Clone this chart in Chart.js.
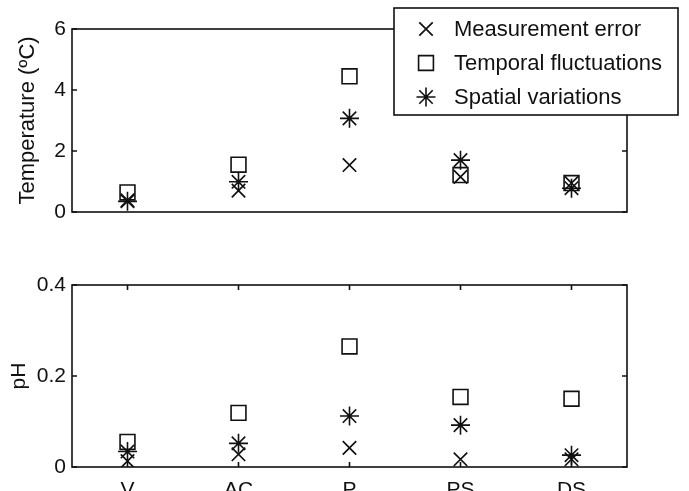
<!DOCTYPE html>
<html>
<head>
<meta charset="utf-8">
<title>Measurement error, temporal and spatial variability</title>
<script src="https://cdn.jsdelivr.net/npm/chart.js@4.4.0/dist/chart.umd.min.js"></script>
<style>
  html, body { margin: 0; padding: 0; background: #fff; width: 689px; height: 491px; overflow: hidden; }
  canvas { position: absolute; left: 0; }
  #tempChart { top: 0; }
  #phChart { top: 240px; }
</style>
</head>
<body>
<canvas id="tempChart" width="689" height="240"></canvas>
<canvas id="phChart" width="689" height="275"></canvas>
<script>
// sampling sites
const categories = ['V', 'AC', 'P', 'PS', 'DS'];
const seriesNames = ['Measurement error', 'Temporal fluctuations', 'Spatial variations'];

// temperature (ºC)
const tempError = [0.38, 0.70, 1.54, 1.15, 0.95];
const tempTemporal = [0.64, 1.55, 4.45, 1.21, 0.95];
const tempSpatial = [0.35, 0.99, 3.07, 1.70, 0.78];
const tempTicks = [0, 2, 4, 6];

// pH
const phError = [0.013, 0.028, 0.042, 0.017, 0.017];
const phTemporal = [0.055, 0.119, 0.265, 0.154, 0.150];
const phSpatial = [0.034, 0.052, 0.112, 0.092, 0.026];
const phTicks = [0, 0.2, 0.4];

const INK = '#111';
const FONT = 'Arial, "Liberation Sans", Helvetica, sans-serif';

// marker look for each series (x, open square, asterisk)
const markerStyles = [
    { pointStyle: 'crossRot', pointRadius: 9.5, pointBorderWidth: 1.7 },
    { pointStyle: 'rect', pointRadius: 10.5, pointBorderWidth: 1.6 },
    { pointStyle: 'star', pointRadius: 9.5, pointBorderWidth: 1.6 }
];

function makeDatasets(values) {
    return values.map((data, i) => ({
        label: seriesNames[i],
        data: data,
        showLine: false,
        borderColor: INK,
        backgroundColor: 'rgba(0,0,0,0)',
        pointBackgroundColor: 'rgba(0,0,0,0)',
        pointBorderColor: INK,
        pointHoverRadius: markerStyles[i].pointRadius,
        ...markerStyles[i]
    }));
}

// MATLAB-like box with inward tick marks
const boxAxes = {
    id: 'boxAxes',
    beforeDatasetsDraw(chart, args, opts) {
        const { ctx, chartArea: a, scales } = chart;
        const len = 5;
        ctx.save();
        ctx.strokeStyle = INK;
        ctx.lineWidth = 1.6;
        ctx.strokeRect(a.left, a.top, a.right - a.left, a.bottom - a.top);
        ctx.beginPath();
        scales.y.ticks.forEach(t => {
            const y = scales.y.getPixelForValue(t.value);
            ctx.moveTo(a.left, y); ctx.lineTo(a.left + len, y);
            ctx.moveTo(a.right, y); ctx.lineTo(a.right - len, y);
        });
        if (opts.xTicks) {
            scales.x.ticks.forEach((t, i) => {
                const x = scales.x.getPixelForTick(i);
                ctx.moveTo(x, a.top); ctx.lineTo(x, a.top + len);
                ctx.moveTo(x, a.bottom); ctx.lineTo(x, a.bottom - len);
            });
        }
        ctx.stroke();
        ctx.restore();
    }
};

// boxed legend in the upper right, drawn over the axes frame
const boxLegend = {
    id: 'boxLegend',
    afterDraw(chart, args, opts) {
        if (!opts.show) return;
        const ctx = chart.ctx;
        const box = { left: 394, top: 8, right: 678, bottom: 115 };
        const rows = [29, 63, 97];
        ctx.save();
        ctx.fillStyle = '#fff';
        ctx.fillRect(box.left, box.top, box.right - box.left, box.bottom - box.top);
        ctx.strokeStyle = INK;
        ctx.lineWidth = 1.6;
        ctx.strokeRect(box.left, box.top, box.right - box.left, box.bottom - box.top);
        chart.data.datasets.forEach((ds, i) => {
            ctx.strokeStyle = INK;
            ctx.fillStyle = 'rgba(0,0,0,0)';
            ctx.lineWidth = ds.pointBorderWidth;
            Chart.helpers.drawPoint(ctx, {
                pointStyle: ds.pointStyle,
                radius: ds.pointRadius,
                rotation: 0,
                borderWidth: ds.pointBorderWidth
            }, 426, rows[i]);
            ctx.fillStyle = INK;
            ctx.font = '22px ' + FONT;
            ctx.textBaseline = 'middle';
            ctx.textAlign = 'left';
            ctx.fillText(ds.label, 454, rows[i] + 1);
        });
        ctx.restore();
    }
};

function buildOptions(cfg) {
    return {
        responsive: false,
        animation: false,
        events: [],
        layout: { padding: cfg.padding },
        plugins: {
            legend: { display: false },
            tooltip: { enabled: false },
            boxAxes: { xTicks: cfg.xTicks },
            boxLegend: { show: cfg.legend }
        },
        scales: {
            x: {
                type: 'category',
                offset: true,
                display: cfg.xLabels,
                grid: { display: false, drawTicks: false },
                border: { display: false },
                ticks: {
                    color: INK,
                    padding: 11,
                    maxRotation: 0,
                    font: { family: FONT, size: 21 }
                },
                afterFit: scale => { scale.height = cfg.xLabels ? 30 : 0; }
            },
            y: {
                min: cfg.ticks[0],
                max: cfg.ticks[cfg.ticks.length - 1],
                grid: { display: false, drawTicks: false },
                border: { display: false },
                afterBuildTicks: scale => { scale.ticks = cfg.ticks.map(v => ({ value: v })); },
                afterFit: scale => { scale.width = 72; },
                ticks: {
                    color: INK,
                    padding: 6,
                    font: { family: FONT, size: 21 }
                },
                title: {
                    display: true,
                    text: cfg.title,
                    color: INK,
                    padding: { top: cfg.titlePad, bottom: 0 },
                    font: { family: FONT, size: cfg.titleSize }
                }
            }
        }
    };
}

new Chart(document.getElementById('tempChart'), {
    type: 'line',
    data: {
        labels: categories,
        datasets: makeDatasets([tempError, tempTemporal, tempSpatial])
    },
    options: buildOptions({
        padding: { top: 29, right: 62, bottom: 28, left: 0 },
        ticks: tempTicks,
        title: 'Temperature (ºC)',
        titleSize: 22,
        titlePad: 15,
        xLabels: false,
        xTicks: false,
        legend: true
    }),
    plugins: [boxAxes, boxLegend]
});

new Chart(document.getElementById('phChart'), {
    type: 'line',
    data: {
        labels: categories,
        datasets: makeDatasets([phError, phTemporal, phSpatial])
    },
    options: buildOptions({
        padding: { top: 45, right: 62, bottom: 18, left: 0 },
        ticks: phTicks,
        title: 'pH',
        titleSize: 21,
        titlePad: 7,
        xLabels: true,
        xTicks: true,
        legend: false
    }),
    plugins: [boxAxes, boxLegend]
});
</script>
</body>
</html>
